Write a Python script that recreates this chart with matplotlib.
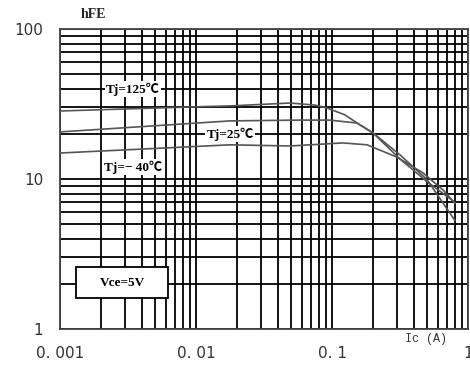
import numpy as np
import matplotlib
matplotlib.use('Agg')
import matplotlib.pyplot as plt
from matplotlib.patches import Rectangle
from matplotlib.ticker import LogLocator, NullFormatter

# collector current (A) and hFE
ic_125 = [0.001, 0.01, 0.0178, 0.049, 0.075, 0.0913, 0.124, 0.161, 0.2, 0.316, 0.5, 0.8]
hfe_125 = [28.4, 30.3, 30.7, 32.1, 31.1, 29.8, 26.8, 22.9, 20.3, 14.5, 9.9, 5.3]

ic_25 = [0.001, 0.0178, 0.0582, 0.096, 0.153, 0.2, 0.316, 0.5, 0.8]
hfe_25 = [20.6, 24.4, 24.7, 24.7, 23.6, 20.3, 13.6, 9.6, 7.0]

ic_m40 = [0.001, 0.0178, 0.049, 0.12, 0.181, 0.3, 0.465, 0.66, 0.8]
hfe_m40 = [14.9, 16.9, 16.6, 17.4, 16.9, 14.0, 11.0, 8.4, 6.9]

xticks = [0.001, 0.01, 0.1, 1]
xticklabels = ['0. 001', '0. 01', '0. 1', '1']
yticks = [1, 10, 100]
yticklabels = ['1', '10', '100']

serif = ['Liberation Serif', 'Noto Sans CJK SC']

fig = plt.figure(figsize=(4.7, 3.65), dpi=100)
ax = fig.add_axes([60/470, 36/365, 408/470, 300/365])
ax.set_xscale('log')
ax.set_yscale('log')
ax.set_xlim(0.001, 1)
ax.set_ylim(1, 100)

ax.xaxis.set_minor_locator(LogLocator(base=10, subs=np.arange(2, 10)))
ax.yaxis.set_minor_locator(LogLocator(base=10, subs=np.arange(2, 10)))
ax.xaxis.set_minor_formatter(NullFormatter())
ax.yaxis.set_minor_formatter(NullFormatter())
ax.set_xticks(xticks)
ax.set_xticklabels(xticklabels)
ax.set_yticks(yticks)
ax.set_yticklabels(yticklabels)
ax.tick_params(which='both', length=0)
ax.tick_params(axis='x', pad=12, labelsize=11, labelcolor='#333333')
ax.tick_params(axis='y', pad=12, labelsize=11, labelcolor='#333333')
ax.grid(which='both', color='black', linewidth=1.3)
ax.set_axisbelow(True)
for s in ax.spines.values():
    s.set_color('#444444')
    s.set_linewidth(1.3)

for ic, hfe in [(ic_125, hfe_125), (ic_25, hfe_25), (ic_m40, hfe_m40)]:
    ax.plot(ic, hfe, color='#555555', linewidth=1.2, zorder=3)

box = dict(facecolor='white', edgecolor='none', pad=1.0)
ax.text(0.00344, 39.8, 'Tj=125℃', family=serif, fontsize=9.5, fontweight='bold',
        ha='center', va='center', bbox=box, zorder=4)
ax.text(0.0178, 20.0, 'Tj=25℃', family=serif, fontsize=9.5, fontweight='bold',
        ha='center', va='center', bbox=box, zorder=4)
ax.text(0.00344, 12.0, 'Tj=− 40℃', family=serif, fontsize=9.5, fontweight='bold',
        ha='center', va='center', bbox=box, zorder=4)

ax.add_patch(Rectangle((16/408, 31/300), 92/408, 31/300, transform=ax.transAxes,
                       facecolor='white', edgecolor='black', linewidth=1.3, zorder=4))
ax.text(62/408, 46/300, 'Vce=5V', family=serif, fontsize=9.5, fontweight='bold',
        ha='center', va='center', transform=ax.transAxes, zorder=5)

fig.text(93/470, 1 - 15/365, 'hFE', family=serif, fontsize=10, fontweight='bold',
         ha='center', va='center', color='#222222')
fig.text(426/470, 1 - 339/365, 'Ic (A)', family='Liberation Mono', fontsize=8.5,
         ha='center', va='center', color='#333333',
         bbox=dict(facecolor='white', edgecolor='none', pad=0.5))

fig.savefig('out.png', dpi=100)
